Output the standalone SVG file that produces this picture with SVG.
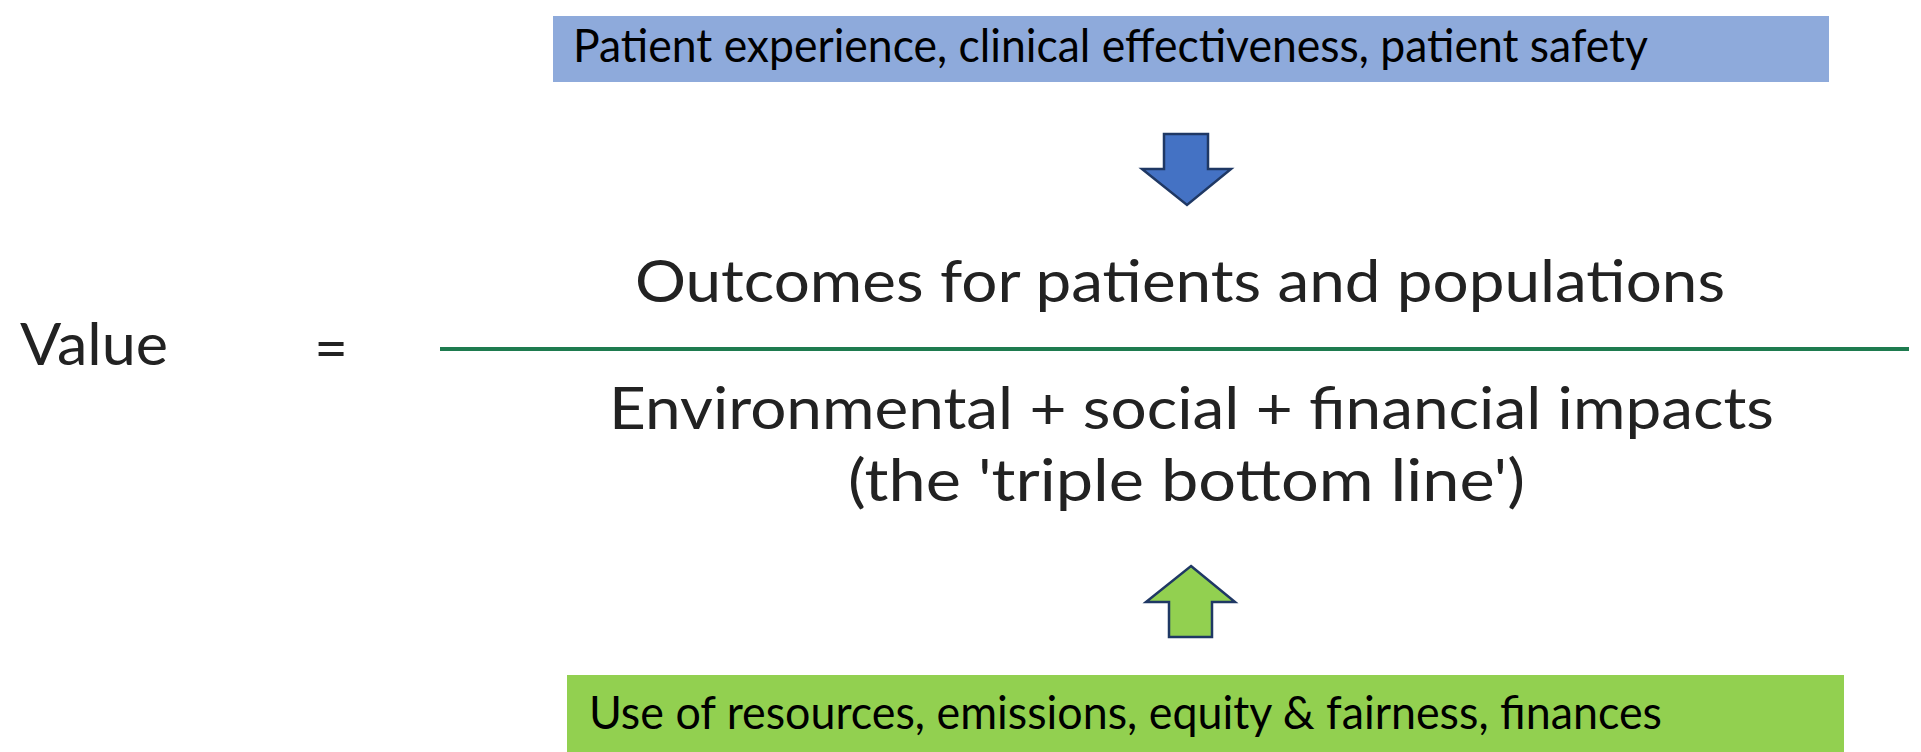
<svg xmlns="http://www.w3.org/2000/svg" width="1921" height="752" viewBox="0 0 1921 752">
<style>
  text { font-family: Lato, "Open Sans", "Liberation Sans", sans-serif; }
  .box-text { font-size: 47px; fill: #000; }
  .eq { font-size: 58px; fill: #222; }
  .arrow { stroke: #1F3864; stroke-width: 2.5; stroke-linejoin: miter; }
</style>
<rect width="1921" height="752" fill="#fff"/>
<g id="top-box">
  <rect x="553" y="16" width="1276" height="66" fill="#8EAADB"/>
  <text class="box-text" x="573" y="62" textLength="1075" lengthAdjust="spacingAndGlyphs">Patient experience, clinical effectiveness, patient safety</text>
</g>
<g id="bottom-box">
  <rect x="567" y="675" width="1277" height="77" fill="#92D050"/>
  <text class="box-text" x="589" y="729" textLength="1073" lengthAdjust="spacingAndGlyphs">Use of resources, emissions, equity &amp; fairness, finances</text>
</g>
<g id="value">
  <text class="eq" x="20" y="365" textLength="148" lengthAdjust="spacingAndGlyphs">Value</text>
</g>
<g id="equals">
  <text class="eq" x="331" y="369" text-anchor="middle">=</text>
</g>
<g id="numerator">
  <text class="eq" x="635" y="302" textLength="1090" lengthAdjust="spacingAndGlyphs">Outcomes for patients and populations</text>
</g>
<g id="denominator">
  <text class="eq" x="609" y="429" textLength="1165" lengthAdjust="spacingAndGlyphs">Environmental + social + financial impacts</text>
  <text class="eq" x="848" y="501" textLength="677" lengthAdjust="spacingAndGlyphs">(the 'triple bottom line')</text>
</g>
<g id="connectors">
  <line x1="440" y1="349" x2="1909" y2="349" stroke="#1E7B4F" stroke-width="4"/>
  <polygon class="arrow" fill="#4472C4" points="1164,134 1208,134 1208,169 1231,169 1187,205 1142,169 1164,169"/>
  <polygon class="arrow" fill="#92D050" points="1191,566 1235,602 1212,602 1212,637 1169,637 1169,602 1146,602"/>
</g>
</svg>
